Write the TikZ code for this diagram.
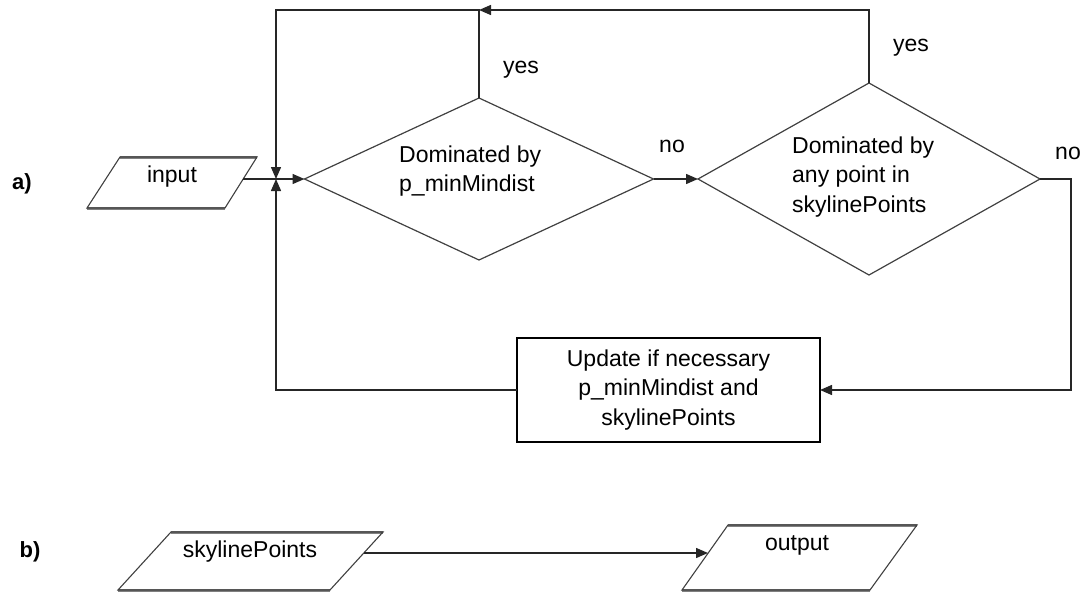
\documentclass[tikz,border=0pt]{standalone}
\usepackage{fontspec}
\setmainfont{Liberation Sans}
\usetikzlibrary{arrows.meta,shapes.geometric}
\begin{document}
\begin{tikzpicture}[x=1pt,y=-1pt,
  line/.style={draw=black!85, line width=1.4pt},
  arr/.style={line, -{Triangle[length=12pt,width=10pt]}},
  txt/.style={font=\fontsize{23}{29.5}\selectfont, inner sep=0pt, text=black},
  decision/.style={diamond, draw=black!75, line width=1.2pt, inner sep=0pt, outer sep=0pt},
  process/.style={draw=black, line width=1.4pt, inner sep=0pt, outer sep=0pt, align=center,
    font=\fontsize{23}{29.5}\selectfont},
  io/.style={draw=black!75, line width=1.1pt, line join=miter},
  ioedge/.style={draw=black!50, line width=3pt}]
  \useasboundingbox (0,0) rectangle (1084,594);

  % input / output shapes (parallelograms)
  \newcommand{\ioshape}[4]{%
    \draw[ioedge] #1 -- #2;
    \draw[ioedge] #3 -- #4;
    \draw[io] #1 -- #2 -- #3 -- #4 -- cycle;}
  \ioshape{(120,157)}{(257,157)}{(225,208)}{(87,208)}
  \ioshape{(171,532)}{(383,532)}{(330,590)}{(118,590)}
  \ioshape{(728,525)}{(917,525)}{(870,590)}{(682,590)}

  \node[txt] (input) at (172,177) {input};
  \node[txt] (sky) at (250,552) {skylinePoints};
  \node[txt] (output) at (797,545) {output};
  \coordinate (inR) at (243,179);
  \coordinate (skyR) at (364,553);
  \coordinate (outL) at (708,553);

  % decisions and update box
  \node[decision, minimum width=349pt, minimum height=162pt] (d1) at (479,179) {};
  \node[decision, minimum width=342pt, minimum height=192pt] (d2) at (869,179) {};
  \node[txt, align=left, anchor=west] (d1t) at (399,171) {Dominated by\\p\_minMindist};
  \node[txt, align=left, anchor=west] (d2t) at (792,177) {Dominated by\\any point in\\skylinePoints};
  \node[process, minimum width=303pt, minimum height=104pt] (upd) at (668.5,390)
    {Update if necessary\\p\_minMindist and\\skylinePoints};

  % routing points
  \coordinate (j) at (276,179);
  \coordinate (t1) at (479,10);
  \coordinate (r1) at (1071,179);

  % connectors
  \draw[line] (inR) -- (j);
  \draw[arr] (j) -- (d1.west);
  \draw[arr] (d1.north) -- (t1) -| (j);
  \draw[arr] (d2.north) |- (t1);
  \draw[arr] (d1.east) -- (d2.west);
  \draw[arr] (d2.east) -- (r1) |- (upd.east);
  \draw[arr] (upd.west) -| (j);
  \draw[arr] (skyR) -- (outL);

  % branch labels
  \node[txt] (y1) at (521,70) {yes};
  \node[txt] (y2) at (911,48) {yes};
  \node[txt] (n1) at (672,146) {no};
  \node[txt] (n2) at (1068,153) {no};

  % part labels
  \node[txt, font=\fontsize{22}{25}\selectfont\bfseries] (pa) at (22,184) {a)};
  \node[txt, font=\fontsize{22}{25}\selectfont\bfseries] (pb) at (30,552) {b)};
\end{tikzpicture}
\end{document}
